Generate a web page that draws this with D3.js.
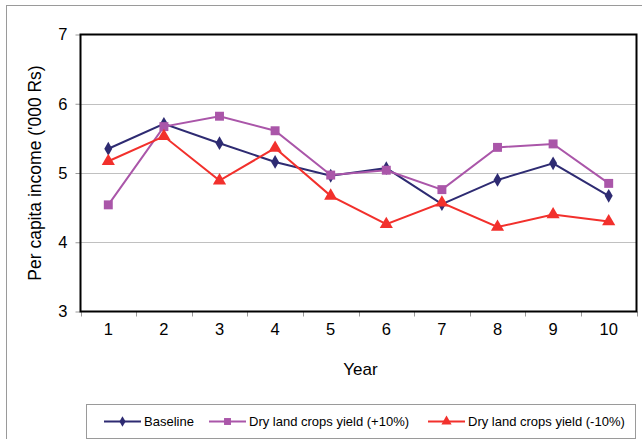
<!DOCTYPE html>
<html>
<head>
<meta charset="utf-8">
<script src="https://cdn.jsdelivr.net/npm/d3@7"></script>
<style>
  body { margin: 0; background: #fff; }
  svg { display: block; font-family: "Liberation Sans", Arial, sans-serif; }
</style>
</head>
<body>
<script>
  // chart data
  let years = [1, 2, 3, 4, 5, 6, 7, 8, 9, 10]
  let baseline = [5.35, 5.71, 5.43, 5.16, 4.96, 5.07, 4.55, 4.90, 5.14, 4.67]
  let plusTen = [4.54, 5.67, 5.82, 5.61, 4.97, 5.04, 4.76, 5.37, 5.42, 4.85]
  let minusTen = [5.17, 5.53, 4.89, 5.36, 4.67, 4.26, 4.57, 4.22, 4.40, 4.30]
  let seriesNames = ['Baseline', 'Dry land crops yield (+10%)', 'Dry land crops yield (-10%)']
  let yTicks = [3, 4, 5, 6, 7]

  let width = 642
  let height = 439
  let plot = { left: 80.5, right: 636.5, top: 34.5, bottom: 311.5 }

  let svg = d3.select('body').append('svg')
    .attr('width', width)
    .attr('height', height)

  // outer frame
  svg.append('rect')
    .attr('x', 6.5).attr('y', 5.5)
    .attr('width', 660).attr('height', 460)
    .style('fill', 'none')
    .style('stroke', '#9a9a9a')
    .style('stroke-width', 1)

  let xScale = d3.scaleBand().domain(years).range([plot.left, plot.right])
  let yScale = d3.scaleLinear().domain([3, 7]).range([plot.bottom, plot.top])

  // dotted gridlines
  svg.append('g')
    .selectAll('line')
    .data(yTicks.filter(t => t > 3 && t < 7))
    .enter().append('line')
    .attr('x1', plot.left).attr('x2', plot.right)
    .attr('y1', d => Math.round(yScale(d)) + 0.5)
    .attr('y2', d => Math.round(yScale(d)) + 0.5)
    .style('stroke', '#808080')
    .style('stroke-width', 1)
    .style('stroke-dasharray', '1,1')

  // y axis
  let yAxis = svg.append('g')
    .attr('transform', 'translate(' + plot.left + ',0)')
    .call(d3.axisLeft(yScale).tickValues(yTicks).tickSize(5).tickPadding(8).tickFormat(d3.format('d')))
  yAxis.select('.domain').remove()
  yAxis.selectAll('line').style('stroke', '#999')
  yAxis.selectAll('text').style('font-size', '16.5px').style('fill', '#000')

  // x axis, ticks on category boundaries
  let xAxis = svg.append('g')
    .attr('transform', 'translate(0,' + plot.bottom + ')')
    .call(d3.axisBottom(xScale).tickSize(0).tickPadding(12))
  xAxis.select('.domain').remove()
  xAxis.selectAll('text').style('font-size', '16.5px').style('fill', '#000')

  let bounds = years.map(d => xScale(d)).concat([plot.right])
  svg.append('g')
    .selectAll('line')
    .data(bounds)
    .enter().append('line')
    .attr('x1', d => Math.round(d) + 0.5).attr('x2', d => Math.round(d) + 0.5)
    .attr('y1', plot.bottom).attr('y2', plot.bottom + 5)
    .style('stroke', '#999')

  // plot frame
  svg.append('rect')
    .attr('x', plot.left).attr('y', plot.top)
    .attr('width', plot.right - plot.left)
    .attr('height', plot.bottom - plot.top)
    .style('fill', 'none')
    .style('stroke', '#000')
    .style('stroke-width', 2)

  let series = [
    { name: seriesNames[0], values: baseline, color: '#2e2b72', symbol: d3.symbolDiamond, size: 55 },
    { name: seriesNames[1], values: plusTen, color: '#aa56a9', symbol: d3.symbolSquare, size: 80 },
    { name: seriesNames[2], values: minusTen, color: '#f2302c', symbol: d3.symbolTriangle, size: 75 }
  ]

  let line = d3.line()
    .x((d, i) => xScale(years[i]) + xScale.bandwidth() / 2)
    .y(d => yScale(d))

  series.forEach(s => {
    let g = svg.append('g')
    g.append('path')
      .attr('d', line(s.values))
      .style('fill', 'none')
      .style('stroke', s.color)
      .style('stroke-width', 2)
    g.selectAll('path.marker')
      .data(s.values)
      .enter().append('path')
      .attr('class', 'marker')
      .attr('d', d3.symbol().type(s.symbol).size(s.size))
      .attr('transform', (d, i) => 'translate(' + (xScale(years[i]) + xScale.bandwidth() / 2) + ',' + yScale(d) + ')')
      .style('fill', s.color)
  })

  // axis titles
  svg.append('text')
    .attr('transform', 'translate(41,' + ((plot.top + plot.bottom) / 2) + ') rotate(-90)')
    .attr('text-anchor', 'middle')
    .style('font-size', '17.5px')
    .text("Per capita income ('000 Rs)")

  svg.append('text')
    .attr('x', (plot.left + plot.right) / 2 + 2)
    .attr('y', 375)
    .attr('text-anchor', 'middle')
    .style('font-size', '17px')
    .text('Year')

  // legend
  let legend = svg.append('g')
  legend.append('rect')
    .attr('x', 86.5).attr('y', 404.5)
    .attr('width', 549).attr('height', 34)
    .style('fill', '#fff')
    .style('stroke', '#9a9a9a')

  let legendX = [104, 209, 428]
  series.forEach((s, i) => {
    let x0 = legendX[i]
    let cy = 421.5
    legend.append('line')
      .attr('x1', x0).attr('x2', x0 + 37)
      .attr('y1', cy).attr('y2', cy)
      .style('stroke', s.color)
      .style('stroke-width', 2)
    legend.append('path')
      .attr('d', d3.symbol().type(s.symbol).size(s.size * 0.6))
      .attr('transform', 'translate(' + (x0 + 18.5) + ',' + cy + ')')
      .style('fill', s.color)
    legend.append('text')
      .attr('x', x0 + 40)
      .attr('y', cy)
      .attr('dy', '0.35em')
      .style('font-size', '13px')
      .text(s.name)
  })
</script>
</body>
</html>
